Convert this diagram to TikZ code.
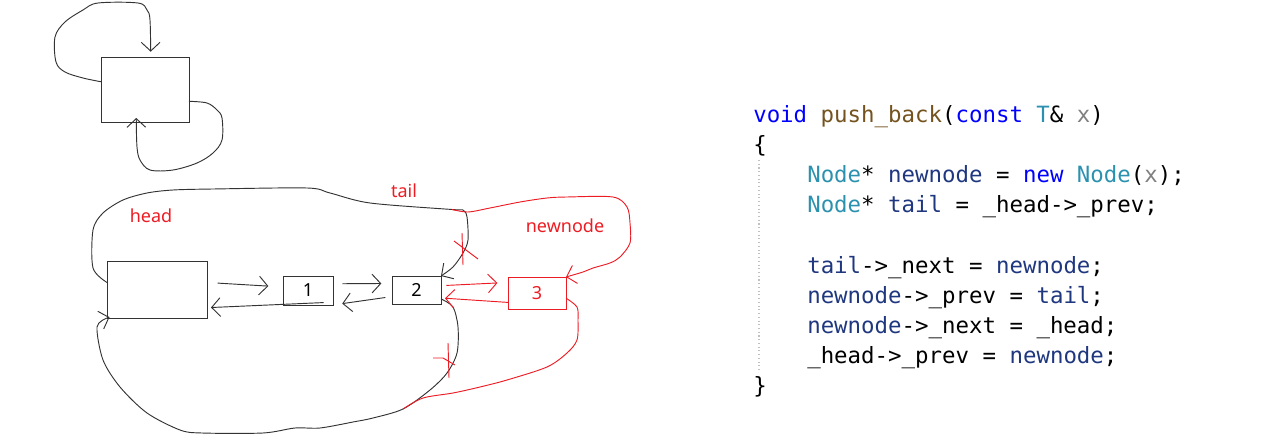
\documentclass[tikz,border=0pt]{standalone}
\usepackage{fontspec}
\newfontfamily\lblfont{Noto Sans}
\newfontfamily\codefont{DejaVu Sans Mono}
\usetikzlibrary{arrows.meta}
\definecolor{pen}{HTML}{ED1C24}
\definecolor{kwblue}{HTML}{0000FF}
\definecolor{fnbrown}{HTML}{74531F}
\definecolor{tyteal}{HTML}{2B91AF}
\definecolor{pagray}{HTML}{808080}
\definecolor{lvblue}{HTML}{1F377F}
\newcommand{\kw}[1]{\textcolor{kwblue}{#1}}
\newcommand{\fn}[1]{\textcolor{fnbrown}{#1}}
\newcommand{\ty}[1]{\textcolor{tyteal}{#1}}
\newcommand{\pa}[1]{\textcolor{pagray}{#1}}
\newcommand{\lv}[1]{\textcolor{lvblue}{#1}}

\begin{document}
\begin{tikzpicture}[x=0.75pt, y=-0.75pt,
    box/.style={draw=black!80, line width=0.7pt, inner sep=0pt, outer sep=0pt, font=\lblfont\fontsize{13.5pt}{14pt}\selectfont},
    hand/.style={draw=black!80, line width=0.7pt, -{Straight Barb[length=6.5pt,width=14pt]}},
    redhand/.style={draw=pen, line width=0.7pt, -{Straight Barb[length=6.5pt,width=14pt]}},
    redlbl/.style={text=pen, font=\lblfont\fontsize{13.5pt}{14pt}\selectfont},
    code/.style={anchor=base west, inner sep=0pt, font=\codefont\fontsize{16.8pt}{20pt}\selectfont}]
        \useasboundingbox (0,0) rectangle (1270,445);

        % empty list
        \node (s)[box, minimum width=66pt, minimum height=48.75pt] at (145,89.5) {};
        \draw[hand, shorten >=4pt] plot[smooth, tension=0.55] coordinates {(s.170) (83,78) (65,72) (56,62) (55,37) (65,22) (83,10) (98,3) (138,3) (147,10) (150,20) (s.80)};
        \draw[hand, shorten >=-3pt] plot[smooth, tension=0.55] coordinates {(s.-15) (207,103) (217,110) (222,118) (222,140) (213,153) (197,163) (173,170) (150,170) (140,160) (137,147) (s.-105)};

        % list with two nodes
        \node (h)[box, minimum width=75pt, minimum height=42.75pt] at (157,289.5) {};
        \node (1)[box, minimum width=37.5pt, minimum height=21.75pt] at (308,290.5) {1};
        \node (2)[box, minimum width=36.75pt, minimum height=21pt] at (416.5,290) {2};
        \node (3)[box, draw=pen, text=pen, minimum width=43.5pt, minimum height=24pt] at (537,293) {3};

        \coordinate (k) at (452,209.5);
        \coordinate (j) at (403,409);

        \draw[hand, shorten <=8pt, shorten >=11pt] (h.8) -- (1.172);
        \draw[hand, shorten <=7pt, shorten >=3pt] (1.-25) -- (h.-20);
        \draw[hand, shorten <=7pt, shorten >=8pt] (1.15) -- (2.165);
        \draw[hand, shorten <=5pt, shorten >=7pt] (2.-165) -- (1.-30);

        \draw[hand] plot[smooth, tension=0.5] coordinates {(h.172) (93,268) (93,230) (103,213) (123,200) (147,193) (173,190) (213,189) (307,188) (330,193) (370,203) (k) (463,210) (467,217) (468,240) (463,253) (453,267) (2.north east)};
        \draw[hand, shorten >=-2pt] plot[smooth, tension=0.5] coordinates {(2.-20) (453,307) (458,327) (457,353) (447,373) (430,390) (j) (373,418) (353,422) (320,428) (295,428) (263,433) (202,433) (180,430) (147,413) (120,387) (103,360) (97,327) (h.south west)};

        % push_back of 3
        \draw[redhand, shorten <=4pt, shorten >=8pt] (2.10) -- (3.160);
        \draw[redhand, shorten >=3pt] (3.198) -- (2.-18);
        \draw[redhand] plot[smooth, tension=0.5] coordinates {(k) (468,212) (490,208) (520,202) (547,198) (567,197) (613,197) (627,207) (630,223) (630,243) (620,257) (610,263) (593,268) (583,272) (3.north east)};
        \draw[pen, line width=0.7pt] plot[smooth, tension=0.5] coordinates {(3.-10) (577,307) (578,320) (577,340) (567,353) (547,367) (507,380) (480,387) (453,393) (423,398) (j)};

        % crossed out links
        \draw[pen, line width=0.7pt] (454,241) -- (478,259);
        \draw[pen, line width=0.7pt] (462,233) -- (463,265);
        \draw[pen, line width=0.7pt] (433,358) -- (443,358) -- (455,365);
        \draw[pen, line width=0.7pt] (448,343) -- (449,378);

        \node (hl)[redlbl] at (151,216) {head};
        \node (tl)[redlbl] at (404,191) {tail};
        \node (nl)[redlbl] at (565,226) {newnode};

        % code
        \draw[pagray!50, dotted, line width=0.8pt] (759,160) -- (759,370);
        \node (c0)[code] at (753,123) {\kw{void} \fn{push\_back}(\kw{const} \ty{T}\& \pa{x})};
        \node (c1)[code] at (753,153) {\{};
        \node (c2)[code] at (807,183) {\ty{Node}* \lv{newnode} = \kw{new} \ty{Node}(\pa{x});};
        \node (c3)[code] at (807,213) {\ty{Node}* \lv{tail} = \_head->\_prev;};
        \node (c5)[code] at (807,273) {\lv{tail}->\_next = \lv{newnode};};
        \node (c6)[code] at (807,303) {\lv{newnode}->\_prev = \lv{tail};};
        \node (c7)[code] at (807,333) {\lv{newnode}->\_next = \_head;};
        \node (c8)[code] at (807,363) {\_head->\_prev = \lv{newnode};};
        \node (c9)[code] at (753,393) {\}};
    \end{tikzpicture}
\end{document}
